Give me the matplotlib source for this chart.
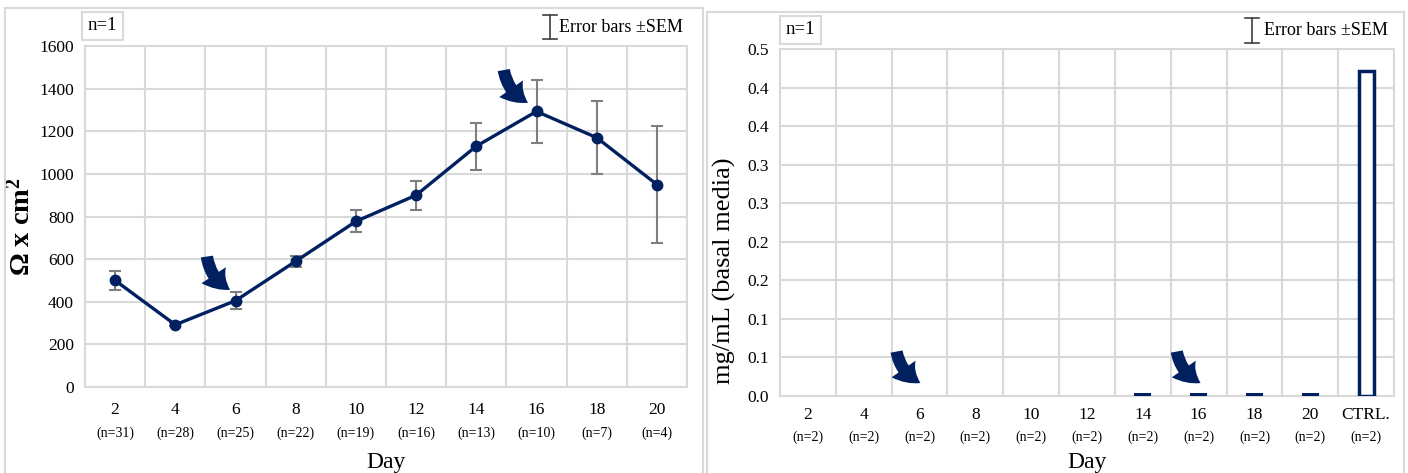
import matplotlib
matplotlib.use("Agg")
import matplotlib.pyplot as plt
from matplotlib.patches import Rectangle, FancyArrowPatch
from matplotlib.lines import Line2D
import matplotlib.transforms as mtransforms
import numpy as np

# ---- data ----
days = ["2", "4", "6", "8", "10", "12", "14", "16", "18", "20"]
n_left = ["(n=31)", "(n=28)", "(n=25)", "(n=22)", "(n=19)", "(n=16)",
          "(n=13)", "(n=10)", "(n=7)", "(n=4)"]
teer = [500, 292, 405, 590, 777, 900, 1130, 1293, 1170, 950]
teer_sem = [44, 8, 40, 25, 52, 68, 110, 147, 172, 273]

cats_right = days + ["CTRL."]
n_right = ["(n=2)"] * 11
conc = [0, 0, 0, 0, 0, 0, 0.004, 0.004, 0.004, 0.004, 0.468]

# arrows (category index, value) tail -> head
arrows_left = [((1.52, 625), (1.95, 450)), ((6.45, 1500), (6.9, 1328))]
arrows_right = [((1.58, 0.068), (2.06, 0.017)), ((6.6, 0.068), (7.08, 0.017))]

NAVY = "#002060"
GRID = "#d9d9d9"
ERR = "#7f7f7f"
W, H = 1408, 473

plt.rcParams["font.family"] = ["Liberation Serif", "DejaVu Serif"]
plt.rcParams["mathtext.fontset"] = "custom"
plt.rcParams["mathtext.rm"] = "Liberation Serif"
plt.rcParams["mathtext.bf"] = "Liberation Serif:bold"

fig = plt.figure(figsize=(W / 100, H / 100), dpi=100)


def px(x, y):
    return x / W, 1 - y / H


def ax_rect(x0, y0, x1, y1):
    return [x0 / W, 1 - y1 / H, (x1 - x0) / W, (y1 - y0) / H]


# panel borders
for (x0, y0, x1) in [(5, 8, 703), (707, 12, 1404)]:
    fig.patches.append(Rectangle(px(x0, 480), (x1 - x0) / W, (480 - y0) / H,
                                 transform=fig.transFigure, fill=False,
                                 edgecolor=GRID, linewidth=1.5))


def style_axes(ax, ncat, pad):
    ax.set_xlim(-0.5, ncat - 0.5)
    ax.set_xticks(range(ncat))
    ax.set_xticks(np.arange(-0.5, ncat, 1), minor=True)
    ax.tick_params(which="both", length=0, labelsize=12.5)
    ax.tick_params(axis="x", pad=pad)
    ax.tick_params(axis="y", pad=8)
    ax.grid(which="minor", axis="x", color=GRID, linewidth=1.5)
    ax.grid(which="major", axis="y", color=GRID, linewidth=1.5)
    ax.set_axisbelow(True)
    for s in ax.spines.values():
        s.set_color(GRID)
        s.set_linewidth(1.5)


def n_labels(ax, labels, y):
    tr = mtransforms.blended_transform_factory(ax.transData, ax.transAxes)
    for i, lab in enumerate(labels):
        ax.text(i, y, lab, transform=tr, ha="center", va="center", fontsize=10)


def add_arrows(ax, arrs):
    for tail, head in arrs:
        ax.add_patch(FancyArrowPatch(tail, head, connectionstyle="arc3,rad=0.28",
                                     arrowstyle="simple,head_width=1.0,head_length=0.75,tail_width=0.42",
                                     mutation_scale=21, color=NAVY, linewidth=0,
                                     zorder=5))


def n1_box(x, y):
    fig.text(*px(x, y), "n=1", fontsize=13.5, ha="left", va="center",
             bbox=dict(boxstyle="square,pad=0.3", facecolor="white",
                       edgecolor=GRID, linewidth=1.5))


def err_legend(xbar, ytop, ybot, xtxt):
    for yy in (ytop, ybot):
        fig.add_artist(Line2D([(xbar - 7) / W, (xbar + 7) / W], [1 - yy / H] * 2,
                              color="#404040", linewidth=1.2))
    fig.add_artist(Line2D([xbar / W] * 2, [1 - ytop / H, 1 - ybot / H],
                          color="#404040", linewidth=1.2))
    fig.text(*px(xtxt, (ytop + ybot) / 2), "Error bars \u00b1SEM", fontsize=13,
             ha="left", va="center")


# ---- left: TEER line ----
ax1 = fig.add_axes(ax_rect(85, 46, 687, 387))
style_axes(ax1, len(days), 11)
x1 = np.arange(len(days))
ax1.errorbar(x1, teer, yerr=teer_sem, fmt="none", ecolor=ERR, elinewidth=1.5,
             capsize=4.3, capthick=1.5, zorder=2)
ax1.plot(x1, teer, color=NAVY, linewidth=2.4, marker="o", markersize=7.5, zorder=3)
ax1.set_ylim(0, 1600)
ax1.set_yticks(range(0, 1601, 200))
ax1.set_xticklabels(days)
n_labels(ax1, n_left, -0.135)
ax1.set_xlabel("Day", fontsize=17)
ax1.xaxis.set_label_coords(0.5, -0.19)
ax1.set_ylabel("\u03a9 x cm$\\mathbf{^2}$", fontsize=20.5, fontweight="bold")
ax1.yaxis.set_label_coords(-0.082, 0.47)
add_arrows(ax1, arrows_left)
n1_box(88, 26)
err_legend(550, 15, 39, 559)

# ---- right: concentration bars ----
ax2 = fig.add_axes(ax_rect(780, 49, 1394, 396))
style_axes(ax2, len(cats_right), 8)
x2 = np.arange(len(cats_right))
ax2.bar(x2[:-1], conc[:-1], width=0.31, color=NAVY, zorder=3)
ax2.bar(x2[-1:], conc[-1:], width=0.27, facecolor="white", edgecolor=NAVY,
        linewidth=2.5, zorder=3)
ax2.set_ylim(0, 0.5)
ax2.set_yticks(np.linspace(0, 0.5, 10))
ax2.set_yticklabels([f"{v:.1f}" for v in np.linspace(0, 0.5, 10)])
ax2.set_xticklabels(cats_right)
n_labels(ax2, n_right, -0.118)
ax2.set_xlabel("Day", fontsize=17)
ax2.xaxis.set_label_coords(0.5, -0.16)
ax2.set_ylabel("mg/mL (basal media)", fontsize=19)
ax2.yaxis.set_label_coords(-0.072, 0.36)
add_arrows(ax2, arrows_right)
n1_box(786, 30)
err_legend(1252, 18, 43, 1264)

fig.savefig("out.png", dpi=100)
